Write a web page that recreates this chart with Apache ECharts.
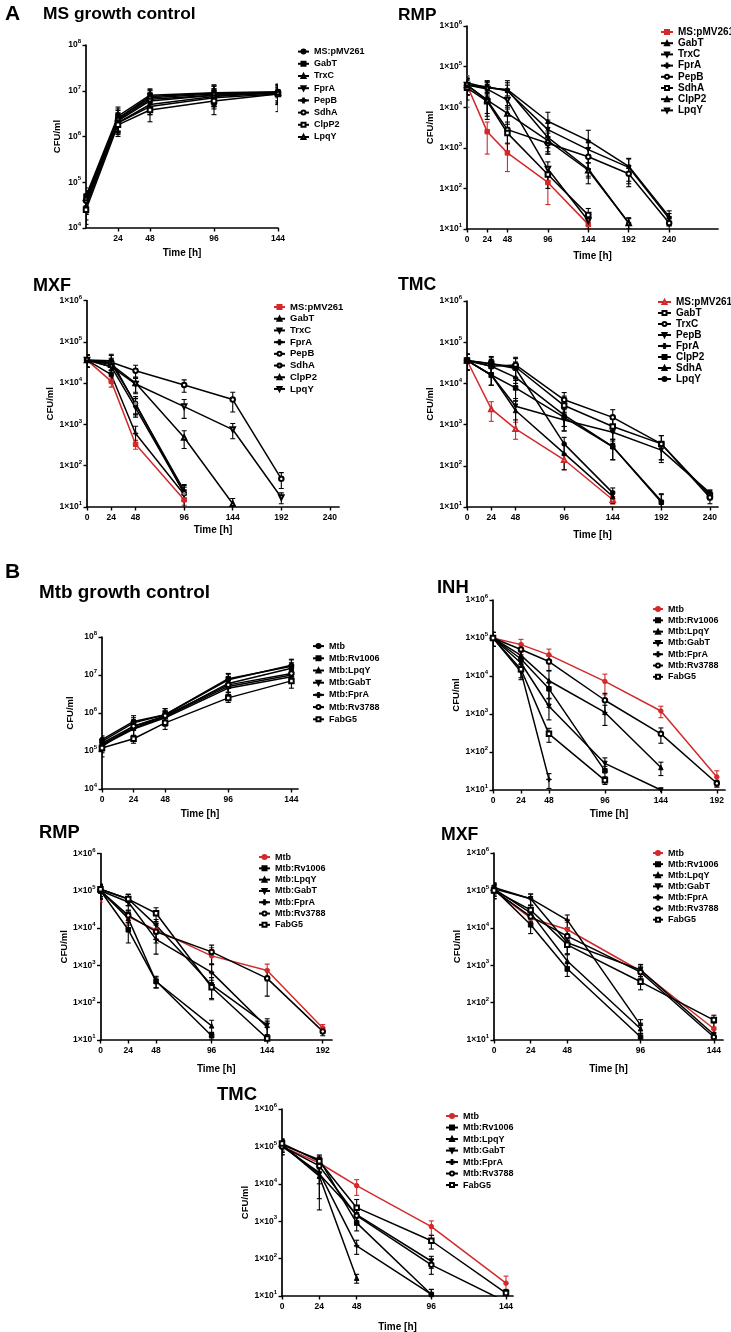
<!DOCTYPE html>
<html><head><meta charset="utf-8">
<script src="https://cdn.jsdelivr.net/npm/echarts@6/dist/echarts.min.js"></script>
<style>html,body{margin:0;padding:0;background:#fff}#c{width:731px;height:1332px}</style>
</head><body><div id="c"></div>
<script>
// ================= DATA =================
const msNames    = ['MS:pMV261','GabT','TrxC','FprA','PepB','SdhA','ClpP2','LpqY'];
const msTmcNames = ['MS:pMV261','GabT','TrxC','PepB','FprA','ClpP2','SdhA','LpqY'];
const mtbNames   = ['Mtb','Mtb:Rv1006','Mtb:LpqY','Mtb:GabT','Mtb:FprA','Mtb:Rv3788','FabG5'];

// A1 - MS growth control
const a1Time = [0,24,48,96,144];
const a1XTicks = [24,48,96,144];
const a1Mean = [
  [4e4, 2.5e6, 7e6, 8.5e6, 9e6],
  [5e4, 2.8e6, 8e6, 9e6, 9.5e6],
  [4.5e4, 2.2e6, 6e6, 8e6, 9e6],
  [3.5e4, 2e6, 5e6, 7.5e6, 9e6],
  [3e4, 2e6, 4.5e6, 7e6, 8.5e6],
  [4e4, 2.3e6, 6.5e6, 8e6, 9e6],
  [2.5e4, 1.8e6, 3.8e6, 6e6, 8.5e6],
  [4.5e4, 2.5e6, 7.5e6, 8.8e6, 9.2e6]
];
const a1Sd = [
  [2e4, 1.5e6, 3e6, 4e6, 4e6],
  [2.5e4, 1.6e6, 3e6, 4.5e6, 4.5e6],
  [2e4, 1e6, 2.5e6, 3e6, 3e6],
  [1.5e4, 8e5, 2e6, 3e6, 2e6],
  [1.5e4, 7e5, 1.5e6, 3e6, 3e6],
  [2e4, 1e6, 2.5e6, 3e6, 3e6],
  [1.3e4, 7e5, 1.7e6, 3e6, 5e6],
  [2e4, 1.2e6, 3e6, 4e6, 4e6]
];

// A2 - MS RMP
const a2Time = [0,24,48,96,144,192,240];
const a2XTicks = [0,24,48,96,144,192,240];
const a2Mean = [
  [3.5e4, 2.5e3, 7.5e2, 1.4e2, 1.3e1],
  [4e4, 3e4, 2.7e4, 4.5e3, 1.5e3, 3.5e2, 2e1],
  [3.5e4, 3.2e4, 2.5e4, 2.8e3, 9e2, 3.3e2, 1.8e1],
  [3.5e4, 3e4, 2.7e4, 1.8e3, 3e2, 1.4e1],
  [3.5e4, 1.5e4, 2.8e3, 1.3e3, 6e2, 2.3e2, 1.4e1],
  [3e4, 1.4e4, 2.3e3, 2.2e2, 2.2e1],
  [3.5e4, 1.5e4, 7e3, 1.5e3, 2.8e2, 1.4e1],
  [3.5e4, 2.8e4, 1.5e4, 3e2, 1.6e1]
];
const a2Sd = [
  [2.5e4, 1.8e3, 4.9e2, 1e2, 3],
  [1.5e4, 1.5e4, 1.8e4, 3e3, 1.2e3, 2e2, 8],
  [1.5e4, 1.2e4, 1.5e4, 2e3, 6e2, 2e2, 6],
  [1.5e4, 1.2e4, 8e3, 8e2, 1.2e2, 4],
  [1.5e4, 8e3, 1.5e3, 6e2, 4e2, 1.2e2, 5],
  [1.5e4, 8e3, 1.5e3, 1.2e2, 1e1],
  [1.5e4, 1e4, 4e3, 8e2, 1.5e2, 5],
  [1.5e4, 1.2e4, 8e3, 1.5e2, 6]
];

// A3 - MS MXF
const a3Time = [0,24,48,96,144,192];
const a3XTicks = [0,24,48,96,144,192,240];
const a3Mean = [
  [3.6e4, 1.1e4, 3.3e2, 1.5e1],
  [3.6e4, 3.5e4, 3e3, 2.5e1],
  [3.6e4, 2.5e4, 2.5e3, 2.2e1],
  [3.6e4, 1.6e4, 6e2, 2e1],
  [3.6e4, 3.2e4, 2e4, 9e3, 4e3, 4.8e1],
  [3.6e4, 3e4, 3.2e3, 2.1e1],
  [3.6e4, 2.8e4, 1e4, 4.8e2, 1.2e1],
  [3.6e4, 2.5e4, 9.5e3, 2.7e3, 7.5e2, 1.7e1]
];
const a3Sd = [
  [1.2e4, 3e3, 8e1, 4],
  [1.2e4, 1.5e4, 1.2e3, 1e1],
  [1.2e4, 1e4, 1e3, 8],
  [1.2e4, 5e3, 3e2, 6],
  [1.2e4, 1.5e4, 7e3, 3e3, 2e3, 2e1],
  [1.2e4, 1e4, 1.5e3, 1.2e1],
  [1.2e4, 1e4, 4e3, 2.2e2, 4],
  [1.2e4, 1e4, 4e3, 1.3e3, 3e2, 5]
];

// A4 - MS TMC
const a4Time = [0,24,48,96,144,192,240];
const a4XTicks = [0,24,48,96,144,192,240];
const a4Mean = [
  [3.6e4, 2.4e3, 7.9e2, 1.4e2, 1.5e1],
  [3.6e4, 3e4, 2.5e4, 2.9e3, 9e2, 3.4e2, 1.9e1],
  [3.6e4, 2.6e4, 2.8e4, 4e3, 1.5e3, 3.4e2, 1.7e1],
  [3.6e4, 1.6e4, 2.8e3, 1.3e3, 6.5e2, 2.4e2, 2.2e1],
  [3.6e4, 2.6e4, 1.4e4, 1.7e3, 2.9e2, 1.4e1],
  [3.6e4, 1.6e4, 7.8e3, 1.5e3, 2.9e2, 1.3e1],
  [3.6e4, 1.6e4, 2.2e3, 2e2, 1.8e1],
  [3.6e4, 3e4, 2.3e4, 3.4e2, 2.2e1]
];
const a4Sd = [
  [1.5e4, 1.2e3, 3.5e2, 6e1, 3],
  [1.5e4, 1.5e4, 1.5e4, 2e3, 5e2, 2e2, 4],
  [1.5e4, 1.2e4, 1.5e4, 2e3, 8e2, 2e2, 5],
  [1.5e4, 7e3, 1.5e3, 6e2, 3e2, 1.2e2, 4],
  [1.5e4, 1e4, 7e3, 8e2, 1.5e2, 6],
  [1.5e4, 7e3, 4e3, 8e2, 1.5e2, 8],
  [1.5e4, 7e3, 1.5e3, 1.2e2, 6],
  [1.5e4, 1.2e4, 1e4, 1.5e2, 7]
];

// B1 - Mtb growth control
const b1Time = [0,24,48,96,144];
const b1XTicks = [0,24,48,96,144];
const b1Mean = [
  [2e5, 6e5, 9e5, 7.5e6, 1.8e7],
  [1.8e5, 5.5e5, 9e5, 8e6, 1.7e7],
  [1.6e5, 4.5e5, 8e5, 6e6, 1.5e7],
  [1.5e5, 4e5, 8e5, 5e6, 1e7],
  [1.4e5, 3.8e5, 7.5e5, 4.5e6, 9e6],
  [1.3e5, 4.5e5, 8.5e5, 5.5e6, 1.1e7],
  [1.2e5, 2.1e5, 5.5e5, 2.5e6, 7e6]
];
const b1Sd = [
  [5e4, 2.5e5, 4e5, 3e6, 8e6],
  [5e4, 2e5, 4e5, 3e6, 8e6],
  [4e4, 2e5, 3e5, 2.5e6, 6e6],
  [4e4, 1.5e5, 3e5, 2e6, 4e6],
  [4e4, 1.5e5, 3e5, 1.5e6, 3e6],
  [4e4, 2e5, 3e5, 2e6, 4e6],
  [5e4, 5e4, 1.8e5, 6e5, 2.5e6]
];

// B2 - Mtb INH
const b2Time = [0,24,48,96,144,192];
const b2XTicks = [0,24,48,96,144,192];
const b2Mean = [
  [1e5, 6.7e4, 3.6e4, 7.2e3, 1.2e3, 22],
  [1e5, 2.8e4, 4.6e3, 32],
  [1e5, 3.5e4, 7.5e3, 1.1e3, 39],
  [1e5, 2.2e4, 1.6e3, 50, 10],
  [1e5, 1.3e4, 19],
  [1e5, 5e4, 2.4e4, 2.3e3, 3e2, 15],
  [1e5, 1.5e4, 3e2, 18]
];
const b2Sd = [
  [4e4, 2.5e4, 1.5e4, 4e3, 4e2, 1e1],
  [4e4, 8e3, 2e3, 1e1],
  [4e4, 1e4, 6e3, 6e2, 1.5e1],
  [4e4, 8e3, 9e2, 2e1, 0],
  [4e4, 5e3, 8],
  [4e4, 2e4, 1e4, 1.2e3, 1.3e2, 3],
  [4e4, 6e3, 1.2e2, 4]
];

// B3 - Mtb RMP
const b3Time = [0,24,48,96,144,192];
const b3XTicks = [0,24,48,96,144,192];
const b3Mean = [
  [1e5, 2e4, 9e3, 1.8e3, 7.3e2, 21],
  [1e5, 9e3, 3.8e2, 13],
  [1e5, 1.8e4, 3.7e2, 24],
  [1.1e5, 6e4, 1.2e4, 3e2, 25],
  [1e5, 5e4, 5e3, 6.5e2, 22],
  [1e5, 2.2e4, 8e3, 2.3e3, 4.5e2, 17],
  [1.1e5, 6e4, 2.5e4, 2.6e2, 11]
];
const b3Sd = [
  [5e4, 8e3, 4e3, 1.2e3, 3.5e2, 5],
  [4e4, 5e3, 1.3e2, 3],
  [4e4, 8e3, 1.2e2, 1e1],
  [4e4, 2e4, 5e3, 1.7e2, 1.2e1],
  [4e4, 2e4, 3e3, 4e2, 1e1],
  [4e4, 8e3, 4e3, 1.2e3, 3e2, 4],
  [4e4, 2e4, 1e4, 1.4e2, 3]
];

// B4 - Mtb MXF
const b4Time = [0,24,48,96,144];
const b4XTicks = [0,24,48,96,144];
const b4Mean = [
  [1e5, 1.8e4, 9e3, 7e2, 20],
  [1.1e5, 1.2e4, 8e2, 12],
  [1.1e5, 2.5e4, 1.3e3, 20],
  [1.2e5, 6e4, 4e3, 7.5e2, 14],
  [1.1e5, 6e4, 1.6e4, 25],
  [1e5, 2e4, 6e3, 6.5e2, 12],
  [1e5, 3e4, 3.5e3, 3.6e2, 34]
];
const b4Sd = [
  [4e4, 7e3, 5e3, 3e2, 8],
  [4e4, 5e3, 3e2, 3],
  [4e4, 1e4, 6e2, 8],
  [4e4, 2e4, 2e3, 3e2, 5],
  [4e4, 2e4, 6e3, 1e1],
  [4e4, 7e3, 3e3, 2.5e2, 3],
  [4e4, 1e4, 1.5e3, 1.4e2, 1.2e1]
];

// B5 - Mtb TMC
const b5Time = [0,24,48,96,144];
const b5XTicks = [0,24,48,96,144];
const b5Mean = [
  [1e5, 3.6e4, 8.9e3, 7.2e2, 22],
  [1.1e5, 4.4e4, 9e2, 11],
  [1.1e5, 1.6e4, 30],
  [1.1e5, 1.8e4, 1.5e3, 85],
  [1e5, 2e4, 2.2e2, 11],
  [1e5, 3e4, 1.4e3, 68, 7],
  [1.2e5, 4e4, 2.3e3, 3e2, 12]
];
const b5Sd = [
  [4e4, 1.5e4, 4e3, 3e2, 1.2e1],
  [4e4, 1.5e4, 3.5e2, 4],
  [4e4, 1.2e4, 8],
  [4e4, 8e3, 6e2, 3e1],
  [4e4, 1.8e4, 9e1, 4],
  [4e4, 1e4, 6e2, 3e1, 0],
  [4e4, 1.5e4, 1.5e3, 1.2e2, 3]
];

// ================= STYLE / LAYOUT =================
const FONT = "'Liberation Sans', Arial, Helvetica, sans-serif";
const RED = '#d22a2a';
const SYM = {
  circle:  {symbol:'circle'},
  square:  {symbol:'rect'},
  tri:     {symbol:'triangle'},
  triDown: {symbol:'triangle', rotate:180},
  plus:    {symbol:'path://M-1,-0.18H1V0.18H-1Z M-0.18,-1H0.18V1H-0.18Z'},
  oCircle: {symbol:'emptyCircle'},
  oSquare: {symbol:'emptyRect'},
  oTri:    {symbol:'emptyTriangle'},
  oTriDown:{symbol:'emptyTriangle', rotate:180},
  gCircle: {symbol:'circle', fill:'#8a8a8a'}
};
const symA1 = ['circle','square','tri','triDown','plus','oCircle','oSquare','oTri'];
const symA2 = ['square','tri','triDown','plus','oCircle','oSquare','oTri','oTriDown'];
const symA3 = ['square','tri','triDown','plus','oCircle','gCircle','oTri','oTriDown'];
const symA4 = ['oTri','oSquare','oCircle','triDown','plus','square','tri','circle'];
const symB  = ['circle','square','tri','triDown','plus','oCircle','oSquare'];

const panels = [
  {id:'A1', g:[86,45,192,183], xMax:144, yMin:1e4, yMax:1e8, fmt:'pow', time:a1Time, mean:a1Mean, sd:a1Sd, names:msNames, sym:symA1, red:-1, ticks:a1XTicks,
   xGap:20, yGap:24, leg:{left:297, top:45.5, lh:12.2, fs:9, iw:11}},
  {id:'A2', g:[467,26,251,203], xMax:298, yMin:10, yMax:1e6, fmt:'x', time:a2Time, mean:a2Mean, sd:a2Sd, names:msNames, sym:symA2, red:0, ticks:a2XTicks,
   xGap:22, yGap:32, leg:{left:660, top:26.4, lh:11.2, fs:10, iw:12}},
  {id:'A3', g:[87,300.5,252,206.5], xMax:249, yMin:10, yMax:1e6, fmt:'x', time:a3Time, mean:a3Mean, sd:a3Sd, names:msNames, sym:symA3, red:0, ticks:a3XTicks,
   xGap:18, yGap:32, leg:{left:273, top:301.2, lh:11.7, fs:9.5, iw:11}},
  {id:'A4', g:[467,301,251,206], xMax:248, yMin:10, yMax:1e6, fmt:'x', time:a4Time, mean:a4Mean, sd:a4Sd, names:msTmcNames, sym:symA4, red:0, ticks:a4XTicks,
   xGap:23, yGap:32, leg:{left:657, top:296.5, lh:11, fs:10, iw:13}},
  {id:'B1', g:[102,637,196,152], xMax:149, yMin:1e4, yMax:1e8, fmt:'pow', time:b1Time, mean:b1Mean, sd:b1Sd, names:mtbNames, sym:symB, red:-1, ticks:b1XTicks,
   xGap:20, yGap:27, leg:{left:312, top:640, lh:12.2, fs:9, iw:11}},
  {id:'B2', g:[493,600,232,190], xMax:199, yMin:10, yMax:1e6, fmt:'x', time:b2Time, mean:b2Mean, sd:b2Sd, names:mtbNames, sym:symB, red:0, ticks:b2XTicks,
   xGap:19, yGap:31, leg:{left:652, top:603.4, lh:11.3, fs:9, iw:10}},
  {id:'B3', g:[100.5,853.5,231.5,186.5], xMax:200, yMin:10, yMax:1e6, fmt:'x', time:b3Time, mean:b3Mean, sd:b3Sd, names:mtbNames, sym:symB, red:0, ticks:b3XTicks,
   xGap:24, yGap:31, leg:{left:258, top:851.4, lh:11.3, fs:9, iw:11}},
  {id:'B4', g:[494,853,229,187], xMax:150, yMin:10, yMax:1e6, fmt:'x', time:b4Time, mean:b4Mean, sd:b4Sd, names:mtbNames, sym:symB, red:0, ticks:b4XTicks,
   xGap:24, yGap:31, leg:{left:652, top:847.5, lh:11.1, fs:9, iw:10}},
  {id:'B5', g:[282,1109,231,187], xMax:148.5, yMin:10, yMax:1e6, fmt:'x', time:b5Time, mean:b5Mean, sd:b5Sd, names:mtbNames, sym:symB, red:0, ticks:b5XTicks,
   xGap:26, yGap:32, leg:{left:445, top:1110.3, lh:11.5, fs:9, iw:12}}
];

const titles = [
  {t:'A', x:5, y:14.5, fs:21},
  {t:'MS growth control', x:43, y:14, fs:17.4},
  {t:'RMP', x:398, y:15, fs:17.3},
  {t:'MXF', x:33, y:286, fs:18},
  {t:'TMC', x:398, y:285.5, fs:17.7},
  {t:'B', x:5, y:572.5, fs:21},
  {t:'Mtb growth control', x:39, y:592.5, fs:18.9},
  {t:'INH', x:437, y:588.3, fs:18.4},
  {t:'RMP', x:39, y:833.3, fs:18.3},
  {t:'MXF', x:441, y:834.7, fs:17.7},
  {t:'TMC', x:217, y:1095, fs:18.5}
];

function makeErr(color){
  return function(params, api){
    const x = api.value(0), lo = api.value(1), hi = api.value(2), cap = api.value(3);
    if (!(hi > lo)) return null;
    const a = api.coord([x, hi]), b = api.coord([x, lo]);
    const w = 2.5, st = {stroke: color, lineWidth: 1.1};
    const ch = [
      {type:'line', shape:{x1:a[0], y1:a[1], x2:b[0], y2:b[1]}, style:st},
      {type:'line', shape:{x1:a[0]-w, y1:a[1], x2:a[0]+w, y2:a[1]}, style:st}
    ];
    if (cap) ch.push({type:'line', shape:{x1:b[0]-w, y1:b[1], x2:b[0]+w, y2:b[1]}, style:st});
    return {type:'group', children:ch};
  };
}

const grid = [], xAxis = [], yAxis = [], legend = [], series = [];
panels.forEach((p, i) => {
  grid.push({left:p.g[0], top:p.g[1], width:p.g[2], height:p.g[3], outerBoundsMode:'none'});
  xAxis.push({
    gridIndex:i, type:'value', min:0, max:p.xMax,
    name:'Time [h]', nameLocation:'middle', nameGap:p.xGap,
    nameTextStyle:{fontFamily:FONT, fontWeight:'bold', fontSize:10, color:'#000'},
    axisLine:{show:true, onZero:false, lineStyle:{color:'#000', width:1.7}},
    axisTick:{show:true, length:3.5, customValues:p.ticks, lineStyle:{color:'#000', width:1.4}},
    axisLabel:{customValues:p.ticks, fontFamily:FONT, fontWeight:'bold', fontSize:8.5, color:'#000', margin:6},
    splitLine:{show:false}
  });
  const pre = p.fmt === 'pow' ? '10' : '1×10';
  yAxis.push({
    gridIndex:i, type:'log', logBase:10, min:p.yMin, max:p.yMax,
    name:'CFU/ml', nameLocation:'middle', nameGap:p.yGap,
    nameTextStyle:{fontFamily:FONT, fontWeight:'bold', fontSize:9.5, color:'#000'},
    axisLine:{show:true, lineStyle:{color:'#000', width:1.7}},
    axisTick:{show:true, length:3.5, lineStyle:{color:'#000', width:1.4}},
    axisLabel:{
      fontFamily:FONT, fontWeight:'bold', fontSize:8.5, color:'#000', margin:5,
      formatter: v => pre + '{s|' + Math.round(Math.log10(v)) + '}',
      rich:{s:{fontFamily:FONT, fontWeight:'bold', fontSize:6, color:'#000', padding:[0,0,7,0]}}
    },
    splitLine:{show:false}, minorTick:{show:false}
  });
  legend.push({
    orient:'vertical', left:p.leg.left, top:p.leg.top, padding:0, itemGap:0,
    itemWidth:p.leg.iw, itemHeight:5, selectedMode:false,
    data:p.names.map(n => p.id + '|' + n),
    formatter: n => n.split('|')[1],
    textStyle:{fontFamily:FONT, fontWeight:'bold', fontSize:p.leg.fs, color:'#000', lineHeight:p.leg.lh}
  });
  p.names.forEach((n, k) => {
    const color = k === p.red ? RED : '#000';
    const s = SYM[p.sym[k]];
    const fill = s.fill || color;
    series.push({
      type:'line', name:p.id + '|' + n, xAxisIndex:i, yAxisIndex:i,
      data:p.mean[k].map((v, j) => [p.time[j], v]),
      symbol:s.symbol, symbolRotate:s.rotate || 0, symbolSize:4.5,
      lineStyle:{color:color, width:1.5},
      itemStyle:{color:fill, borderColor:color, borderWidth:1},
      emphasis:{disabled:true}, silent:true, z:3, clip:true
    });
  });
  p.names.forEach((n, k) => {
    const color = k === p.red ? RED : '#000';
    const data = p.mean[k].map((v, j) => {
      const sd = p.sd[k][j];
      let lo = v - sd, cap = 1;
      if (lo < p.yMin) { lo = p.yMin; cap = 0; }
      const hi = Math.min(v + sd, p.yMax);
      return [p.time[j], lo, hi, cap];
    });
    series.push({
      type:'custom', xAxisIndex:i, yAxisIndex:i, renderItem:makeErr(color),
      data:data, encode:{x:0, y:[1,2]}, silent:true, z:2, clip:true
    });
  });
});

const graphic = titles.map(t => ({
  type:'text', x:t.x, y:t.y, silent:true,
  style:{text:t.t, fontFamily:FONT, fontWeight:'bold', fontSize:t.fs, fill:'#000', verticalAlign:'middle', align:'left'}
}));

const chart = echarts.init(document.getElementById('c'), null, {renderer:'canvas'});
chart.setOption({
  animation:false, backgroundColor:'#fff',
  grid, xAxis, yAxis, legend, series, graphic
});
</script></body></html>
